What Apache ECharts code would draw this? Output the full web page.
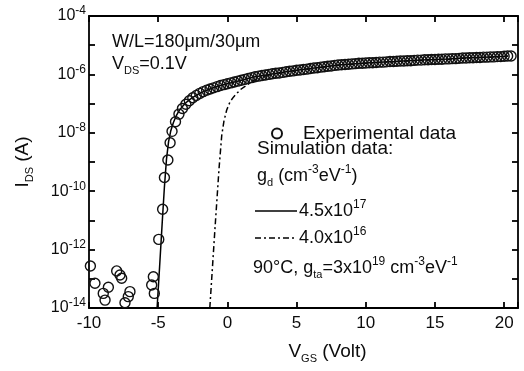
<!DOCTYPE html>
<html>
<head>
<meta charset="utf-8">
<script src="https://cdn.jsdelivr.net/npm/echarts@6/dist/echarts.min.js"></script>
<style>
html, body { margin: 0; padding: 0; background: #fff; }
#main { width: 524px; height: 371px; }
</style>
</head>
<body>
<div id="main"></div>
<script>
// V_GS (Volt) and log10 of I_DS (A)
var expV = [-9.9, -9.57, -8.97, -8.84, -8.6, -8.0, -7.76, -7.64, -7.4, -7.16, -7.04,
    -5.47, -5.35, -5.28, -4.96, -4.68, -4.55, -4.3, -4.14,
    -4.0, -3.75, -3.5, -3.25, -3.0, -2.75, -2.5, -2.25, -2.0, -1.75, -1.5, -1.25, -1.0, -0.75, -0.5, -0.25,
    0, 0.25, 0.5, 0.75, 1.0, 1.25, 1.5, 1.75, 2.0, 2.25, 2.5, 2.75, 3.0, 3.25, 3.5, 3.75,
    4.0, 4.25, 4.5, 4.75, 5.0, 5.25, 5.5, 5.75, 6.0, 6.25, 6.5, 6.75, 7.0, 7.25, 7.5, 7.75,
    8.0, 8.25, 8.5, 8.75, 9.0, 9.25, 9.5, 9.75, 10, 10.25, 10.5, 10.75, 11, 11.25, 11.5, 11.75,
    12, 12.25, 12.5, 12.75, 13, 13.25, 13.5, 13.75, 14, 14.25, 14.5, 14.75, 15, 15.25, 15.5, 15.75,
    16, 16.25, 16.5, 16.75, 17, 17.25, 17.5, 17.75, 18, 18.25, 18.5, 18.75, 19, 19.25, 19.5, 19.75,
    20, 20.25, 20.5];
var expLogI = [-12.56, -13.15, -13.5, -13.73, -13.29, -12.73, -12.87, -12.98, -13.82, -13.61, -13.44,
    -13.21, -12.93, -13.5, -11.65, -10.62, -9.53, -8.93, -8.34,
    -7.95, -7.62, -7.36, -7.17, -7.02, -6.9, -6.8, -6.72, -6.65, -6.59, -6.54, -6.5, -6.46, -6.42, -6.38, -6.35,
    -6.32, -6.29, -6.26, -6.23, -6.2, -6.17, -6.14, -6.11, -6.08, -6.06, -6.04, -6.02, -6.0, -5.98, -5.96, -5.95,
    -5.93, -5.91, -5.89, -5.88, -5.86, -5.85, -5.83, -5.82, -5.8, -5.78, -5.77, -5.75, -5.74, -5.72, -5.71, -5.69,
    -5.68, -5.67, -5.66, -5.65, -5.64, -5.63, -5.62, -5.62, -5.61, -5.6, -5.6, -5.59, -5.58, -5.58, -5.57, -5.56,
    -5.56, -5.55, -5.54, -5.54, -5.53, -5.53, -5.52, -5.51, -5.51, -5.5, -5.5, -5.49, -5.49, -5.48, -5.48, -5.47,
    -5.47, -5.46, -5.46, -5.45, -5.44, -5.44, -5.43, -5.43, -5.42, -5.42, -5.41, -5.41, -5.4, -5.4, -5.39, -5.39,
    -5.38, -5.37, -5.37];

// simulation, g_d = 4.5x10^17
var sim1V = [-5.08, -4.9, -4.7, -4.55, -4.4, -4.25, -4.1, -3.9, -3.7, -3.5, -3.25, -3.0, -2.75, -2.5, -2.0,
    -1.5, -1.0, -0.5, 0, 0.5, 1, 1.5, 2, 3, 4, 5, 6, 7, 8, 9, 10, 11, 12, 13, 14, 15, 16, 17, 18, 19, 20, 20.3];
var sim1LogI = [-14.0, -12.6, -11.0, -9.85, -8.9, -8.3, -7.95, -7.65, -7.42, -7.25, -7.1, -6.97, -6.87, -6.79, -6.65,
    -6.54, -6.46, -6.38, -6.32, -6.26, -6.2, -6.14, -6.08, -6.0, -5.93, -5.86, -5.8, -5.74, -5.68, -5.64, -5.61,
    -5.58, -5.56, -5.53, -5.51, -5.49, -5.47, -5.44, -5.42, -5.4, -5.38, -5.37];

// simulation, g_d = 4.0x10^16
var sim2V = [-1.27, -0.9, -0.6, -0.41, -0.25, -0.05, 0.2, 0.45, 0.7, 1.0, 1.3, 1.6, 2.0, 2.5, 3, 4, 5,
    6, 7, 8, 9, 10, 11, 12, 13, 14, 15, 16, 17, 18, 19, 20, 20.3];
var sim2LogI = [-14.0, -11.3, -9.2, -8.1, -7.6, -7.22, -6.93, -6.77, -6.64, -6.5, -6.4, -6.3, -6.18, -6.09, -6.02, -5.94, -5.87,
    -5.81, -5.75, -5.69, -5.65, -5.62, -5.59, -5.57, -5.54, -5.52, -5.5, -5.48, -5.45, -5.43, -5.41, -5.39, -5.38];

var xMin = -10, xMax = 21, xStep = 5;
var yMin = 1e-14, yMax = 1e-4;

function pairs(xs, logs) {
    return xs.map(function (v, i) { return [v, Math.pow(10, logs[i])]; });
}

var ink = '#0c0c0c';
var font = '"Liberation Sans", Arial, sans-serif';
var richScript = {
    sup: { fontSize: 12, fontFamily: font, color: ink, verticalAlign: 'top', lineHeight: 12 },
    sub: { fontSize: 11, fontFamily: font, color: ink, verticalAlign: 'bottom', lineHeight: 12 }
};

var myChart = echarts.init(document.getElementById('main'));

var axisLineStyle = { color: '#000', width: 1.8 };

var option = {
    animation: false,
    backgroundColor: '#fff',
    grid: { left: 89, right: 6, top: 16, bottom: 63 },
    xAxis: [{
        type: 'value', min: xMin, max: xMax, interval: xStep,
        axisLine: { onZero: false, lineStyle: axisLineStyle },
        axisTick: { inside: true, length: 6, lineStyle: axisLineStyle },
        splitLine: { show: false },
        axisLabel: {
            margin: 7, fontSize: 17, fontFamily: font, color: ink,
            formatter: function (v) { return v % xStep === 0 ? String(v) : ''; }
        },
        name: 'V{sub|GS} (Volt)', nameLocation: 'middle', nameGap: 32,
        nameTextStyle: { fontSize: 19, fontFamily: font, color: ink, lineHeight: 24, padding: [0, 0, 0, 48], rich: richScript }
    }, {
        type: 'value', min: xMin, max: xMax, interval: xStep, position: 'top',
        axisLine: { onZero: false, lineStyle: axisLineStyle },
        axisTick: { inside: true, length: 6, lineStyle: axisLineStyle },
        axisLabel: { show: false }, splitLine: { show: false }
    }],
    yAxis: [{
        type: 'log', logBase: 10, min: yMin, max: yMax, interval: 1,
        axisLine: { onZero: false, lineStyle: axisLineStyle },
        axisTick: { inside: true, length: 6, lineStyle: axisLineStyle },
        splitLine: { show: false },
        axisLabel: {
            margin: 3, fontSize: 16, fontFamily: font, color: ink, lineHeight: 22,
            formatter: function (v) {
                var e = Math.round(Math.log10(v));
                return e % 2 === 0 ? '10{sup|' + e + '}' : '';
            },
            rich: richScript
        },
        name: 'I{sub|DS} (A)', nameLocation: 'middle', nameGap: 54,
        nameTextStyle: { fontSize: 19, fontFamily: font, color: ink, lineHeight: 24, rich: richScript }
    }, {
        type: 'log', logBase: 10, min: yMin, max: yMax, interval: 1, position: 'right',
        axisLine: { onZero: false, lineStyle: axisLineStyle },
        axisTick: { inside: true, length: 6, lineStyle: axisLineStyle },
        axisLabel: { show: false }, splitLine: { show: false }
    }],
    legend: [{
        data: ['Experimental data'], left: 266, top: 119, itemWidth: 24, itemHeight: 10,
        selectedMode: false,
        textStyle: { fontSize: 19, fontFamily: font, color: ink, padding: [0, 0, 0, 9] }
    }],
    graphic: [{
        type: 'text', left: 112, top: 33,
        style: { text: 'W/L=180\u03bcm/30\u03bcm', fontSize: 18, fontFamily: font, fill: ink }
    }, {
        type: 'text', left: 112, top: 52,
        style: { text: 'V{sub|DS}=0.1V', fontSize: 18, fontFamily: font, fill: ink, lineHeight: 24, rich: richScript }
    }, {
        type: 'text', left: 257, top: 139,
        style: { text: 'Simulation data:', fontSize: 19, fontFamily: font, fill: ink }
    }, {
        type: 'text', left: 257, top: 164,
        style: { text: 'g{sub|d} (cm{sup|-3}eV{sup|-1})', fontSize: 18, fontFamily: font, fill: ink, lineHeight: 24, rich: richScript }
    }, {
        // legend sample, solid line
        type: 'line', shape: { x1: 255, y1: 211, x2: 297, y2: 211 },
        style: { stroke: '#000', lineWidth: 1.5 }
    }, {
        type: 'text', left: 299, top: 199,
        style: { text: '4.5x10{sup|17}', fontSize: 18, fontFamily: font, fill: ink, lineHeight: 24, rich: richScript }
    }, {
        // legend sample, dash-dot line
        type: 'line', shape: { x1: 255, y1: 238, x2: 297, y2: 238 },
        style: { stroke: '#000', lineWidth: 1.5, lineDash: [6, 3, 2, 3] }
    }, {
        type: 'text', left: 299, top: 226,
        style: { text: '4.0x10{sup|16}', fontSize: 18, fontFamily: font, fill: ink, lineHeight: 24, rich: richScript }
    }, {
        type: 'text', left: 253, top: 256,
        style: { text: '90\u00b0C, g{sub|ta}=3x10{sup|19} cm{sup|-3}eV{sup|-1}', fontSize: 18, fontFamily: font, fill: ink, lineHeight: 24, rich: richScript }
    }],
    series: [{
        name: 'g2', type: 'line', data: pairs(sim2V, sim2LogI),
        symbol: 'none', z: 2,
        lineStyle: { color: '#000', width: 1.5, type: [6, 3, 2, 3] }
    }, {
        name: 'g1', type: 'line', data: pairs(sim1V, sim1LogI),
        symbol: 'none', z: 2,
        lineStyle: { color: '#000', width: 1.5 }
    }, {
        name: 'Experimental data', type: 'scatter', data: pairs(expV, expLogI),
        symbol: 'circle', symbolSize: 10, z: 3,
        itemStyle: { color: 'rgba(255,255,255,0)', borderColor: '#111', borderWidth: 1.4, opacity: 1 }
    }]
};
myChart.setOption(option);
</script>
</body>
</html>
